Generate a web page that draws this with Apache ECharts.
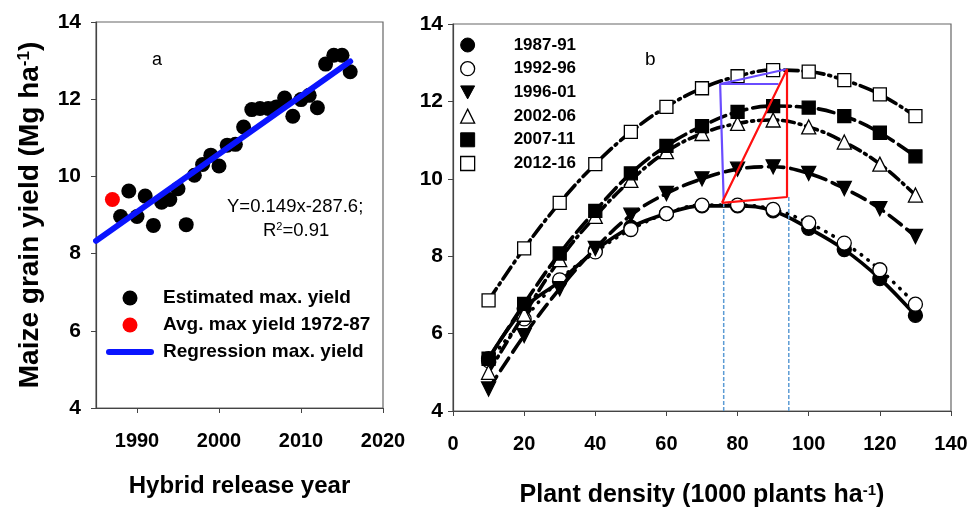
<!DOCTYPE html>
<html>
<head>
<meta charset="utf-8">
<script src="https://cdn.jsdelivr.net/npm/echarts@6/dist/echarts.min.js"></script>
<style>html,body{margin:0;padding:0;background:#fff}#c{width:972px;height:510px}</style>
</head>
<body>
<div id="c"></div>
<script>
// ---- Panel a data ----
const releaseYears = [1988,1989,1990,1991,1992,1993,1994,1995,1996,1997,1998,1999,2000,2001,2002,2003,2004,2005,2006,2007,2008,2009,2010,2011,2012,2013,2014,2015,2016];
const estimatedMaxYield = [8.96,9.62,8.96,9.49,8.73,9.33,9.40,9.68,8.75,10.03,10.31,10.55,10.27,10.81,10.83,11.28,11.73,11.76,11.76,11.80,12.03,11.56,11.99,12.10,11.78,12.91,13.14,13.14,12.71];
const avgYear = [1987];
const avgMaxYield = [9.40];
const regressionYears = [1985, 2016];
const regressionYield = [8.33, 12.98];
const yearTicks = [1990, 2000, 2010, 2020];

// ---- Panel b data ----
const density = [10,20,30,40,50,60,70,80,90,100,110,120,130];
const periods = ['1987-91','1992-96','1996-01','2002-06','2007-11','2012-16'];
const y1987 = [5.35,6.65,7.35,8.15,8.75,9.10,9.30,9.30,9.17,8.72,8.17,7.42,6.47];
const y1992 = [5.30,6.38,7.39,8.11,8.69,9.10,9.32,9.32,9.21,8.86,8.34,7.65,6.76];
const y1996 = [4.57,5.95,7.16,8.20,9.06,9.62,10.00,10.25,10.31,10.14,9.75,9.23,8.51];
const y2002 = [5.00,6.50,7.91,9.03,9.96,10.70,11.17,11.43,11.52,11.34,10.95,10.38,9.58];
const y2007 = [5.35,6.77,8.07,9.17,10.14,10.85,11.36,11.73,11.88,11.84,11.62,11.19,10.58];
const y2012 = [6.86,8.20,9.38,10.38,11.21,11.86,12.34,12.65,12.81,12.77,12.55,12.18,11.62];
// annotation polygons (density, yield)
const bluePathX = [76.1, 75.1, 91.5, 75.1, 93.7];
const bluePathY = [9.45, 12.45, 12.45, 12.45, 12.83];
const redPathX = [75.6, 93.9, 93.9, 75.6];
const redPathY = [9.38, 12.83, 9.53, 9.38];
const guideX = [76.1, 94.4];
const guideTop = [9.45, 9.53];

const FF = "'Liberation Sans', Arial, sans-serif";
const zip = (a, b) => a.map((v, i) => [v, b[i]]);

const styles = {
  '1987-91': {symbol:'circle', rotate:0, fill:'#000', dash:'solid'},
  '1992-96': {symbol:'circle', rotate:0, fill:'#fff', dash:[0.5,8]},
  '1996-01': {symbol:'triangle', rotate:180, fill:'#000', dash:[15,7]},
  '2002-06': {symbol:'triangle', rotate:0, fill:'#fff', dash:[12,5,2,5]},
  '2007-11': {symbol:'rect', rotate:0, fill:'#000', dash:[16,6]},
  '2012-16': {symbol:'rect', rotate:0, fill:'#fff', dash:[14,5,2,5]}
};
const periodData = [y1987, y1992, y1996, y2002, y2007, y2012];
const invTri = 'path://M0,0L14,0L7,13Z';

const bSeries = periods.map((p, i) => {
  const s = styles[p];
  return {
    name: p, type: 'line', xAxisIndex: 1, yAxisIndex: 1,
    data: zip(density, periodData[i]),
    smooth: 0.4,
    symbol: s.symbol, symbolSize: s.symbol === 'rect' ? 13 : 14, symbolRotate: s.rotate,
    itemStyle: {color: s.fill, borderColor: '#000', borderWidth: 1.3},
    lineStyle: {color: '#000', width: 3.6, type: s.dash, cap: s.dash === 'solid' ? 'butt' : 'round'},
    z: 3 + i
  };
});

const option = {
  animation: false,
  textStyle: {fontFamily: FF},
  grid: [
    {left: 96, top: 22, width: 287, height: 386, show: true, borderColor: '#666', borderWidth: 1.2, outerBoundsMode: 'none', containLabel: false},
    {left: 453, top: 24, width: 498, height: 387, show: true, borderColor: '#666', borderWidth: 1.2, outerBoundsMode: 'none', containLabel: false}
  ],
  xAxis: [
    {type: 'value', gridIndex: 0, min: 1985, max: 2020,
     axisLine: {lineStyle: {color: '#444', width: 1.2}},
     axisTick: {show: true, length: 5, customValues: yearTicks, lineStyle: {color: '#444'}},
     axisLabel: {customValues: yearTicks, formatter: v => String(v), margin: 23, color: '#000', fontWeight: 'bold', fontSize: 20, fontFamily: FF},
     splitLine: {show: false},
     name: 'Hybrid release year', nameLocation: 'middle', nameGap: 66,
     nameTextStyle: {color: '#000', fontWeight: 'bold', fontSize: 24, fontFamily: FF}},
    {type: 'value', gridIndex: 1, min: 0, max: 140, interval: 20,
     axisLine: {lineStyle: {color: '#444', width: 1.2}},
     axisTick: {show: true, length: 5, lineStyle: {color: '#444'}},
     axisLabel: {margin: 23, color: '#000', fontWeight: 'bold', fontSize: 20, fontFamily: FF},
     splitLine: {show: false},
     name: 'Plant density (1000 plants ha{s|-1})', nameLocation: 'middle', nameGap: 72,
     nameTextStyle: {color: '#000', fontWeight: 'bold', fontSize: 25, fontFamily: FF,
       rich: {s: {fontSize: 15, fontWeight: 'bold', verticalAlign: 'top', color: '#000', fontFamily: FF, padding: [0,0,10,0]}}}}
  ],
  yAxis: [
    {type: 'value', gridIndex: 0, min: 4, max: 14, interval: 2,
     axisLine: {show: true, lineStyle: {color: '#444', width: 1.2}},
     axisTick: {show: true, length: 5, lineStyle: {color: '#444'}},
     axisLabel: {margin: 15, color: '#000', fontWeight: 'bold', fontSize: 21, fontFamily: FF},
     splitLine: {show: false},
     name: 'Maize grain yield (Mg ha{s|-1})', nameLocation: 'middle', nameGap: 52, nameRotate: 90,
     nameTextStyle: {color: '#000', fontWeight: 'bold', fontSize: 28, fontFamily: FF,
       rich: {s: {fontSize: 17, fontWeight: 'bold', verticalAlign: 'top', color: '#000', fontFamily: FF, padding: [0,0,10,0]}}}},
    {type: 'value', gridIndex: 1, min: 4, max: 14, interval: 2,
     axisLine: {show: true, lineStyle: {color: '#444', width: 1.2}},
     axisTick: {show: true, length: 5, lineStyle: {color: '#444'}},
     axisLabel: {margin: 10, color: '#000', fontWeight: 'bold', fontSize: 21, fontFamily: FF},
     splitLine: {show: false}}
  ],
  legend: [
    {orient: 'vertical', left: 106, top: 288.5, padding: 0, itemWidth: 48, itemHeight: 15, itemGap: 8,
     textStyle: {color: '#000', fontWeight: 'bold', fontSize: 19, fontFamily: FF, padding: [0,0,0,4]},
     selectedMode: false,
     data: [
       {name: 'Estimated max. yield', icon: 'circle', itemStyle: {color: '#000'}},
       {name: 'Avg. max yield 1972-87', icon: 'circle', itemStyle: {color: '#ff0000'}},
       {name: 'Regression max. yield', icon: 'path://M3,0L45,0A3,3,0,0,1,45,6L3,6A3,3,0,0,1,3,0Z', itemStyle: {color: '#0a14ff'}}
     ]},
    {orient: 'vertical', left: 460, top: 36.5, padding: 0, itemWidth: 14, itemHeight: 14, itemGap: 6.7,
     textStyle: {color: '#000', fontWeight: 'bold', fontSize: 17, fontFamily: FF, padding: [0,0,0,34]},
     selectedMode: false,
     data: [
       {name: '1987-91', icon: 'circle', itemStyle: {color: '#000', borderColor: '#000', borderWidth: 1}},
       {name: '1992-96', icon: 'circle', itemStyle: {color: '#fff', borderColor: '#000', borderWidth: 1.3}},
       {name: '1996-01', icon: invTri, itemStyle: {color: '#000', borderColor: '#000', borderWidth: 1}},
       {name: '2002-06', icon: 'triangle', itemStyle: {color: '#fff', borderColor: '#000', borderWidth: 1.3}},
       {name: '2007-11', icon: 'rect', itemStyle: {color: '#000', borderColor: '#000', borderWidth: 1}},
       {name: '2012-16', icon: 'rect', itemStyle: {color: '#fff', borderColor: '#000', borderWidth: 1.3}}
     ]}
  ],
  graphic: [
    {type: 'text', left: 152, top: 51, style: {text: 'a', fontSize: 18, fontFamily: FF, fill: '#000'}},
    {type: 'text', left: 645, top: 50, style: {text: 'b', fontSize: 19, fontFamily: FF, fill: '#000'}},
    {type: 'text', left: 227, top: 197, style: {text: 'Y=0.149x-287.6;', fontSize: 18.5, fontFamily: FF, fill: '#000'}},
    {type: 'text', left: 263, top: 221, style: {text: 'R{s|2}=0.91', fontSize: 18.5, fontFamily: FF, fill: '#000',
      rich: {s: {fontSize: 11, fontFamily: FF, fill: '#000', verticalAlign: 'top', padding: [0,0,8,0]}}}}
  ],
  series: [
    {name: 'Estimated max. yield', type: 'scatter', xAxisIndex: 0, yAxisIndex: 0,
     data: zip(releaseYears, estimatedMaxYield), symbol: 'circle', symbolSize: 15,
     itemStyle: {color: '#000', opacity: 1}, z: 2},
    {name: 'Avg. max yield 1972-87', type: 'scatter', xAxisIndex: 0, yAxisIndex: 0,
     data: zip(avgYear, avgMaxYield), symbol: 'circle', symbolSize: 15,
     itemStyle: {color: '#ff0000', opacity: 1}, z: 2},
    {name: 'Regression max. yield', type: 'line', xAxisIndex: 0, yAxisIndex: 0,
     data: zip(regressionYears, regressionYield), showSymbol: false, symbol: 'none',
     lineStyle: {color: '#0a14ff', width: 6, cap: 'round'}, z: 4},
    ...bSeries,
    {name: 'guide1', type: 'line', xAxisIndex: 1, yAxisIndex: 1, symbol: 'none',
     data: [[guideX[0], 4], [guideX[0], guideTop[0]]],
     lineStyle: {color: '#5b9bd5', width: 1.5, type: [4,2]}, z: 9},
    {name: 'guide2', type: 'line', xAxisIndex: 1, yAxisIndex: 1, symbol: 'none',
     data: [[guideX[1], 4], [guideX[1], guideTop[1]]],
     lineStyle: {color: '#5b9bd5', width: 1.5, type: [4,2]}, z: 9},
    {name: 'bluePoly', type: 'line', xAxisIndex: 1, yAxisIndex: 1, symbol: 'none',
     data: zip(bluePathX, bluePathY),
     lineStyle: {color: '#6a4cff', width: 2.2}, z: 10},
    {name: 'redPoly', type: 'line', xAxisIndex: 1, yAxisIndex: 1, symbol: 'none',
     data: zip(redPathX, redPathY),
     lineStyle: {color: '#ff1010', width: 2.2}, z: 11}
  ]
};
const chart = echarts.init(document.getElementById('c'), null, {renderer: 'canvas'});
chart.setOption(option);
</script>
</body>
</html>
